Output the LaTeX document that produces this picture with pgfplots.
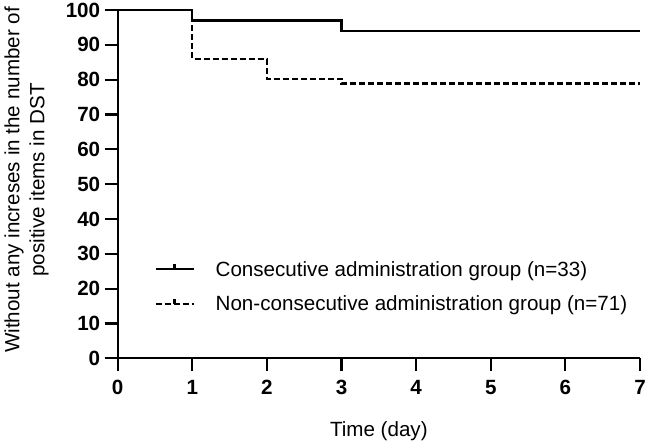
\documentclass[border=0pt]{standalone}
\usepackage{fontspec}
\setmainfont{Liberation Sans}
\usepackage{pgfplots}
\pgfplotsset{compat=1.18}
\newcommand\ff{\fontsize{20.6}{25}\selectfont}
\begin{document}
\begin{tikzpicture}
\path[use as bounding box] (-117.7pt,-82.7pt) rectangle (528.3pt,358.3pt);
\begin{axis}[
  at={(0,0)}, anchor=origin,
  scale only axis,
  width=522.3pt, height=348.3pt,
  xmin=0, xmax=7, ymin=0, ymax=100,
  xtick={0,1,...,7}, ytick={0,10,...,100},
  axis lines=left,
  axis line style={-, line width=2.2pt, black},
  tick style={line width=2.2pt, black},
  tick align=outside,
  major tick length=13pt,
  clip=false,
  /pgf/number format/assume math mode=true,
  tick label style={font=\ff\bfseries},
  xticklabel style={yshift=-5pt},
  yticklabel style={xshift=-1pt},
  xlabel={Time (day)},
  xlabel style={font=\ff, at={(axis description cs:0.5,0)}, anchor=north, yshift=-60pt},
  ylabel={Without any increses in the number of\\positive items in DST},
  ylabel style={font=\ff, align=center, at={(axis description cs:-0.1745,0.512)}, anchor=center, rotate=0},
  legend image code/.code={
    \draw[#1] (0pt,0pt) -- (38pt,0pt);
    \draw[#1, solid] (19pt,0pt) -- (19pt,5pt);
  },
  legend style={at={(axis cs:0.49,20.6)}, anchor=west, draw=none, fill=none,
    font=\ff, row sep=14pt, inner sep=0pt,
    nodes={inner xsep=0pt},
    /tikz/every odd column/.append style={column sep=21pt}},
  legend cell align=left,
]
\addplot[const plot, black, line width=2.2pt] coordinates {
  (0,100) (1,96.97) (3,93.94) (7,93.94)
};
\addlegendentry{Consecutive administration group (n=33)}
\addplot[const plot, black, line width=2.2pt, dash pattern=on 6pt off 3pt] coordinates {
  (0,100) (1,85.92) (2,80.28) (3,78.87) (7,78.87)
};
\addlegendentry{Non-consecutive administration group (n=71)}
\end{axis}
\end{tikzpicture}
\end{document}
